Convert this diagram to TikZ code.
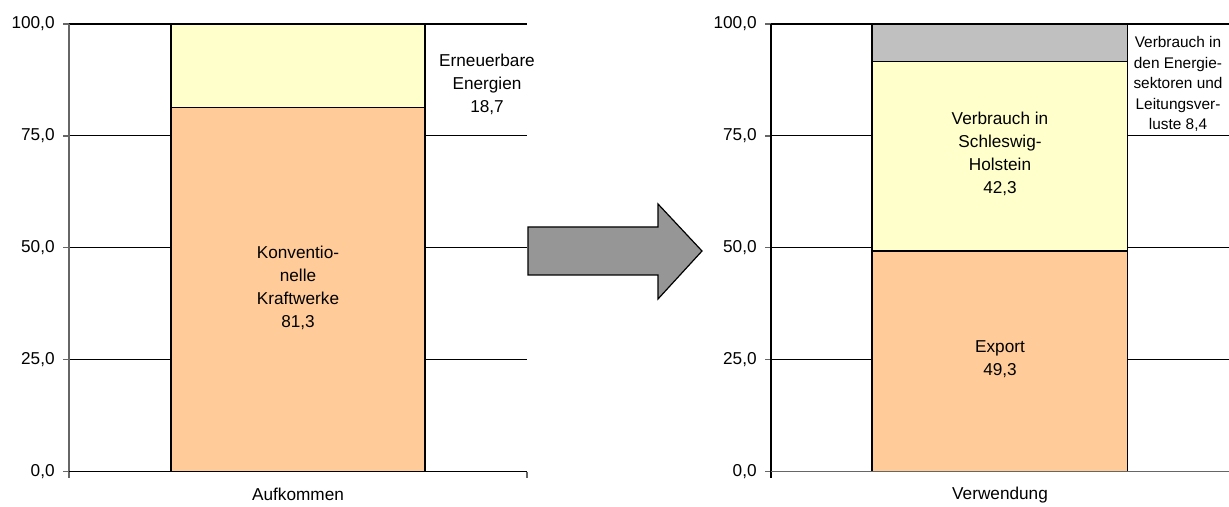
\documentclass[tikz,border=0pt]{standalone}
\usepackage{fontspec}
\setmainfont{Liberation Sans}
\definecolor{barorange}{HTML}{FFCC99}
\definecolor{baryellow}{HTML}{FFFFCC}
\definecolor{bargray}{HTML}{C0C0C0}
\definecolor{arrowgray}{HTML}{969696}
\begin{document}
\begin{tikzpicture}[x=0.5pt, y=-0.5pt,
  every node/.style={font=\fontsize{8.6}{11.5}\selectfont, inner sep=0pt},
  gridline/.style={black, line width=0.55pt},
  axisline/.style={black!60, line width=0.7pt},
  barbox/.style={draw=black, line width=0.7pt},
  ticklabel/.style={anchor=east},
  barlabel/.style={align=center},
  smalllabel/.style={align=center, font=\fontsize{7.7}{10.25}\selectfont}]

\useasboundingbox (0,0) rectangle (1229,507);

% grid, ticks and axis labels for both charts
\foreach \ox/\chart in {69/auf, 771/ver} {
  \begin{scope}[shift={(\ox,471.5)}, yscale=-4.475]
    \foreach \v in {25,50,75,100}
      \draw[gridline] (0,\v) -- (458,\v);
    \foreach \v/\t in {0/{0,0}, 25/{25,0}, 50/{50,0}, 75/{75,0}, 100/{100,0}} {
      \node[ticklabel] (\chart-t\v) at (-14,\v) {\t};
      \draw[axisline] (-6,\v) -- (0,\v);
    }
  \end{scope}
}

% left chart: Aufkommen
\begin{scope}[shift={(69,471.5)}, yscale=-4.475]
  \filldraw[barbox, fill=barorange] (102,0) rectangle (356,81.3);
  \filldraw[barbox, fill=baryellow] (102,81.3) rectangle (356,100);
  \draw[axisline] (0,100) -- (0,-1.35);
  \draw[black, line width=0.7pt] (0,0) -- (458,0);
  \draw[axisline] (458,0) -- (458,-1.35);
  \node[barlabel] (konv) at (229,41) {Konventio-\\nelle\\Kraftwerke\\81,3};
  \node[barlabel] (erneu) at (418,86.6) {Erneuerbare\\Energien\\18,7};
  \node (aufkommen) at (229,-5.2) {Aufkommen};
\end{scope}

% arrow between the charts
\filldraw[fill=arrowgray, draw=black, line width=0.6pt]
  (528,227) -- (658,227) -- (658,204) -- (702,251) -- (658,299)
  -- (658,275) -- (528,275) -- cycle;

% right chart: Verwendung
\begin{scope}[shift={(771,471.5)}, yscale=-4.475]
  \filldraw[barbox, fill=barorange] (101,0) rectangle (356.5,49.3);
  \filldraw[barbox, fill=baryellow] (101,49.3) rectangle (356.5,91.6);
  \filldraw[barbox, fill=bargray] (101,91.6) rectangle (356.5,100);
  \draw[black, line width=0.7pt] (0,100) -- (0,-1.35);
  \draw[axisline] (0,0) -- (458,0);
  \node[barlabel] (export) at (229,25) {Export\\49,3};
  \node[barlabel] (sh) at (229,71) {Verbrauch in\\Schleswig-\\Holstein\\42,3};
  \node[smalllabel] (sektoren) at (407,86.6)
    {Verbrauch in\\den Energie-\\sektoren und\\Leitungsver-\\luste 8,4};
  \node (verwendung) at (229,-5.2) {Verwendung};
\end{scope}

\end{tikzpicture}
\end{document}
